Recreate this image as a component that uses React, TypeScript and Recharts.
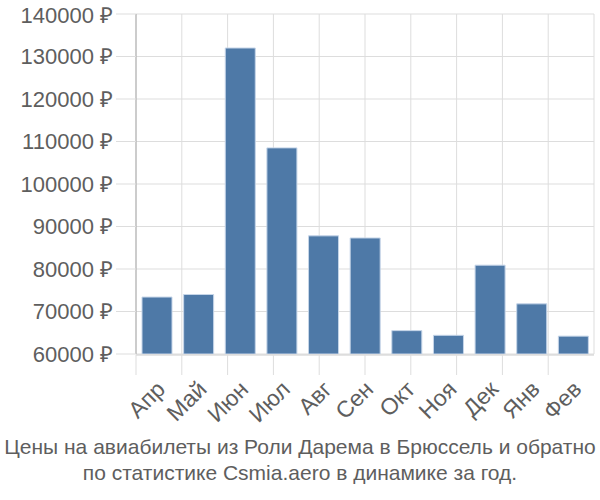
import { Bar, BarChart, CartesianGrid, XAxis, YAxis } from "recharts";

const months = ["Апр", "Май", "Июн", "Июл", "Авг", "Сен", "Окт", "Ноя", "Дек", "Янв", "Фев"];
const prices = [73400, 74000, 132000, 108500, 87800, 87300, 65500, 64400, 80900, 71800, 64200];
const priceTicks = [60000, 70000, 80000, 90000, 100000, 110000, 120000, 130000, 140000];
const boundaryTicks = [0, 1, 2, 3, 4, 5, 6, 7, 8, 9, 10, 11];

const FONT = "'Liberation Sans', Arial, sans-serif";
const TEXT = "#5e5e5e";
const GRID = "#ddd";

const data = months.map((m, i) => ({ month: m, price: prices[i] }));

function MonthTick({ x, y, payload }: any) {
  return (
    <g transform={`translate(${x + 4},${y + 23}) rotate(-45)`}>
      <text textAnchor="end" dy="0.35em" fill={TEXT} fontSize={23} fontFamily={FONT}>
        {payload.value}
      </text>
    </g>
  );
}

export default function App() {
  return (
    <div style={{ position: "absolute", left: 0, top: 0, width: 600, height: 500, background: "#fff" }}>
      <BarChart
        width={600}
        height={500}
        data={data}
        margin={{ top: 14, right: 6, bottom: 144, left: 0 }}
      >
        <CartesianGrid stroke={GRID} xAxisId="grid" />
        <XAxis
          xAxisId="grid"
          type="number"
          domain={[0, 11]}
          ticks={boundaryTicks}
          tick={() => null}
          tickSize={20}
          tickLine={{ stroke: GRID }}
          axisLine={{ stroke: "#ccc" }}
          height={1}
        />
        <XAxis
          xAxisId="cat"
          dataKey="month"
          tick={<MonthTick />}
          tickLine={false}
          axisLine={false}
          interval={0}
          height={1}
        />
        <YAxis
          width={136}
          domain={[60000, 140000]}
          ticks={priceTicks}
          tickFormatter={(v) => `${v} ₽`}
          tick={{ fill: TEXT, fontSize: 22, fontFamily: FONT }}
          tickSize={20}
          tickMargin={3}
          tickLine={{ stroke: GRID }}
          axisLine={{ stroke: "#aaa" }}
          allowDataOverflow
        />
        <Bar
          xAxisId="cat"
          dataKey="price"
          fill="#4e79a7"
          stroke="#c5d5e8"
          strokeWidth={1}
          barSize={30}
          isAnimationActive={false}
        />
      </BarChart>
      <div
        style={{
          position: "absolute",
          left: 0,
          top: 434,
          width: 600,
          textAlign: "center",
          fontFamily: FONT,
          fontSize: 21,
          lineHeight: "26px",
          color: TEXT,
          whiteSpace: "nowrap",
        }}
      >
        Цены на авиабилеты из Роли Дарема в Брюссель и обратно
        <br />
        по статистике Csmia.aero в динамике за год.
      </div>
    </div>
  );
}
